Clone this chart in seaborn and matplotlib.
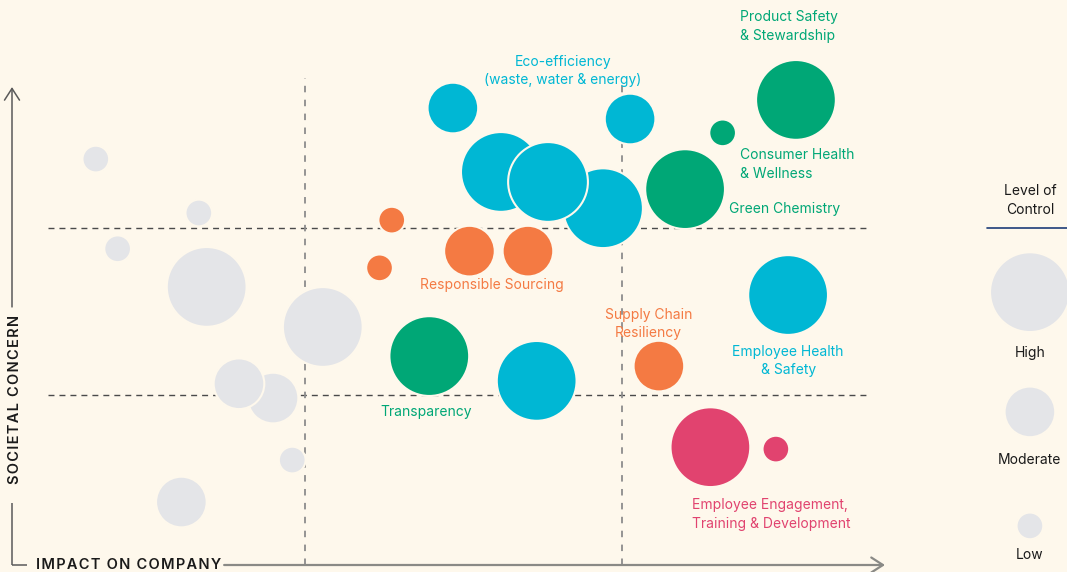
import matplotlib
matplotlib.use("Agg")
import matplotlib.pyplot as plt
import numpy as np
import pandas as pd
import seaborn as sns

# ---------------- data ----------------
# impact on company (0-10), societal concern (0-10), level of control (1=Low,2=Moderate,3=High)
impact = [0.96, 2.14, 1.21, 2.23, 3.56, 2.99, 2.60, 3.21, 1.94,
          5.05, 5.60, 6.77, 7.08, 8.89, 6.01, 6.14,
          8.98, 8.14, 7.71, 4.78,
          4.35, 4.21, 5.24, 5.91, 7.41,
          8.00, 8.75]
concern = [8.51, 7.38, 6.63, 5.83, 4.99, 3.50, 3.80, 2.20, 1.32,
           9.58, 8.24, 7.48, 9.35, 5.66, 3.86, 8.03,
           9.75, 9.06, 7.88, 4.38,
           7.23, 6.23, 6.58, 6.58, 4.17,
           2.47, 2.43]
control = [1, 1, 1, 3, 3, 2, 2, 1, 2,
           2, 3, 3, 2, 3, 3, 3,
           3, 1, 3, 3,
           1, 1, 2, 2, 2,
           3, 1]
group = (["Other"] * 9 + ["Environment"] * 7 + ["Product"] * 4
         + ["Supply"] * 5 + ["People"] * 2)

labels = ["Product Safety\n& Stewardship", "Consumer Health\n& Wellness", "Green Chemistry",
          "Eco-efficiency\n(waste, water & energy)", "Responsible Sourcing",
          "Supply Chain\nResiliency", "Employee Health\n& Safety", "Transparency",
          "Employee Engagement,\nTraining & Development"]
label_group = ["Product", "Product", "Product", "Environment", "Supply",
               "Supply", "Environment", "Product", "People"]
label_x = [8.34, 8.34, 8.21, 6.31, 5.50, 7.29, 8.89, 4.74, 7.79]
label_y = [11.29, 8.40, 7.46, 10.36, 5.88, 5.05, 4.28, 3.21, 1.06]
label_ha = ["left", "left", "left", "center", "center", "center", "center", "center", "left"]

concern_thresholds = [7.07, 3.56]
impact_thresholds = [3.36, 6.99]

legend_levels = ["High", "Moderate", "Low"]
legend_control = [3, 2, 1]

y_title = "SOCIETAL CONCERN"
x_title = "IMPACT ON COMPANY"
legend_title = "Level of\nControl"

# ---------------- style ----------------
BG = "#fef8ec"
PALETTE = {"Other": "#e4e5e8", "Environment": "#00b7d4", "Product": "#00a776",
           "Supply": "#f47a43", "People": "#e1436f"}
SIZES = {1: 370, 2: 1330, 3: 3300}

sns.set_theme(style="white")
plt.rcParams["font.family"] = ["Inter", "DejaVu Sans"]


def tracked(s):
    return "\u200a".join(s)


df = pd.DataFrame({"impact": impact, "concern": concern,
                   "control": control, "group": group})

fig = plt.figure(figsize=(10.67, 5.72), dpi=100, facecolor=BG)
ax = fig.add_axes([12 / 1067, 7 / 572, 873 / 1067, 477 / 572])
ax.set_facecolor(BG)
ax.set_xlim(0, 10)
ax.set_ylim(0, 10)
ax.axis("off")

# quadrant guides
ax.hlines(concern_thresholds, 0.41, 9.81, colors="#4a4a4a", lw=1.0,
          linestyles=[(0, (4.3, 3.6))], zorder=1, clip_on=False)
ax.vlines(impact_thresholds, 0, 10.21, colors="#8c8c8c", lw=1.3,
          linestyles=[(0, (3.6, 4.1))], zorder=1, clip_on=False)

# bubbles
sns.scatterplot(data=df, x="impact", y="concern", hue="group", palette=PALETTE,
                size="control", sizes=SIZES, legend=False, edgecolor=BG,
                linewidth=1.5, alpha=1, ax=ax, clip_on=False, zorder=3)

# labels
for t, g, x, y, ha in zip(labels, label_group, label_x, label_y, label_ha):
    ax.text(x, y, t, color=PALETTE[g], ha=ha, va="center", fontsize=10,
            linespacing=1.42, zorder=4, clip_on=False)

# axes arrows
AX_COL = "#5a5a5a"
ax.plot([0, 0], [0, 1.30], color=AX_COL, lw=1.1, clip_on=False, solid_capstyle="butt")
ax.annotate("", xy=(0, 10.02), xytext=(0, 5.41),
            arrowprops=dict(arrowstyle="->,head_length=0.7,head_width=0.45",
                            color=AX_COL, lw=1.1, shrinkA=0, shrinkB=0,
                            mutation_scale=12), annotation_clip=False)
ax.plot([0, 0.17], [0, 0], color=AX_COL, lw=1.1, clip_on=False, solid_capstyle="butt")
ax.annotate("", xy=(10.0, 0), xytext=(2.43, 0),
            arrowprops=dict(arrowstyle="->,head_length=0.7,head_width=0.45",
                            color="#8a8a86", lw=1.6, shrinkA=0, shrinkB=0,
                            mutation_scale=12), annotation_clip=False)
ax.text(0.04, 3.48, tracked(y_title), rotation=90, ha="center", va="center",
        fontsize=10.5, fontweight="semibold", color="#1a1a1a", clip_on=False)
ax.text(0.275, 0.0, tracked(x_title), ha="left", va="center",
        fontsize=10.5, fontweight="semibold", color="#1a1a1a", clip_on=False)

# size legend
leg = pd.DataFrame({"level": legend_levels, "control": legend_control,
                    "x": [11.66] * 3, "y": [5.72, 3.21, 0.82]})
sns.scatterplot(data=leg, x="x", y="y", size="control", sizes=SIZES, color=PALETTE["Other"],
                edgecolor=BG, linewidth=1.5, legend=False, ax=ax, clip_on=False, zorder=3)
for lvl, yy in zip(legend_levels, [4.44, 2.20, 0.21]):
    ax.text(11.66, yy, lvl, ha="center", va="center", fontsize=10, color="#1a1a1a",
            clip_on=False)
ax.text(11.66, 7.64, legend_title, ha="center", va="center", fontsize=10,
        color="#1a1a1a", linespacing=1.45, clip_on=False)
ax.plot([11.17, 12.2], [7.065, 7.065], color="#1d3c78", lw=1.2, clip_on=False)

fig.savefig("out.png", dpi=100, facecolor=BG)
